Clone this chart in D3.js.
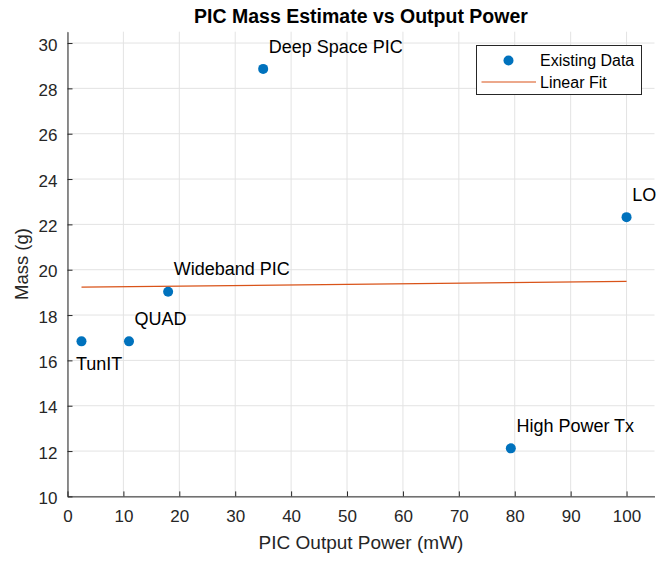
<!DOCTYPE html>
<html>
<meta charset="utf-8">
<head>
  <script src="https://d3js.org/d3.v7.min.js"></script>
  <style>
    body { margin: 0; background: #fff; }
    text { font-family: "Liberation Sans", Arial, Helvetica, sans-serif; fill: #262626; }
    .grid line { stroke: #e3e3e3; stroke-width: 1; }
    .axis path, .axis line { stroke: #262626; }
    .axis text { font-size: 17px; fill: #262626; }
  </style>
</head>
<body>
<div id="chart"></div>
<script>
  // data
  var names = ["TunIT", "QUAD", "Wideband PIC", "Deep Space PIC", "High Power Tx", "LO"];
  var power = [2.5, 11, 18, 35, 79.3, 100];
  var mass = [16.84, 16.84, 19.03, 28.86, 12.12, 22.32];
  // linear fit end points
  var fitPower = [2.5, 100];
  var fitMass = [19.23, 19.49];
  var xTicks = [0, 10, 20, 30, 40, 50, 60, 70, 80, 90, 100];
  var yTicks = [10, 12, 14, 16, 18, 20, 22, 24, 26, 28, 30];

  var width = 660, height = 561;
  var margin = {left: 67.5, right: 5.5, top: 31.7, bottom: 64.6};

  var svg = d3.select("#chart").append("svg")
      .attr("width", width)
      .attr("height", height);

  var x = d3.scaleLinear().domain([0, 105]).range([margin.left, width - margin.right]);
  var y = d3.scaleLinear().domain([10, 30.5]).range([height - margin.bottom, margin.top]);

  // grid
  svg.append("g").attr("class", "grid")
    .selectAll("line.v").data(xTicks).enter().append("line")
      .attr("x1", function(d) { return x(d); })
      .attr("x2", function(d) { return x(d); })
      .attr("y1", y.range()[0])
      .attr("y2", y.range()[1]);
  svg.append("g").attr("class", "grid")
    .selectAll("line.h").data(yTicks).enter().append("line")
      .attr("x1", x.range()[0])
      .attr("x2", x.range()[1])
      .attr("y1", function(d) { return y(d); })
      .attr("y2", function(d) { return y(d); });

  // axes, ticks point inward like matlab
  var xAxis = svg.append("g").attr("class", "axis")
      .attr("transform", "translate(0," + y.range()[0] + ")")
      .call(d3.axisBottom(x).tickValues(xTicks).tickSizeInner(-5).tickSizeOuter(0).tickPadding(14));
  var yAxis = svg.append("g").attr("class", "axis")
      .attr("transform", "translate(" + x.range()[0] + ",0)")
      .call(d3.axisLeft(y).tickValues(yTicks).tickSizeInner(-5).tickSizeOuter(0).tickPadding(10));
  xAxis.selectAll("text").attr("font-family", null);
  yAxis.selectAll("text").attr("font-family", null);
  svg.selectAll(".axis text").attr("font-size", null);
  yAxis.selectAll(".tick text").attr("dy", "0.42em");

  // fit line
  var line = d3.line()
      .x(function(d) { return x(d[0]); })
      .y(function(d) { return y(d[1]); });
  svg.append("path")
      .datum(d3.zip(fitPower, fitMass))
      .attr("d", line)
      .attr("fill", "none")
      .attr("stroke", "#D95319")
      .attr("stroke-width", 1.2);

  // points
  var pts = d3.range(names.length).map(function(i) {
    return {name: names[i], x: power[i], y: mass[i]};
  });
  svg.append("g").selectAll("circle").data(pts).enter().append("circle")
      .attr("cx", function(d) { return x(d.x); })
      .attr("cy", function(d) { return y(d.y); })
      .attr("r", 5)
      .attr("fill", "#0072BD");

  // labels, offset by one unit in data coords (TunIT goes below/left)
  svg.append("g").selectAll("text").data(pts).enter().append("text")
      .attr("x", function(d) { return x(d.x + (d.name === "TunIT" ? -1 : 1)); })
      .attr("y", function(d) { return y(d.y + (d.name === "TunIT" ? -1 : 1)); })
      .attr("dy", "0.35em")
      .attr("font-size", "18px")
      .style("fill", "#000")
      .text(function(d) { return d.name; });

  // title and axis labels
  svg.append("text")
      .attr("x", (x.range()[0] + x.range()[1]) / 2)
      .attr("y", 22.5)
      .attr("text-anchor", "middle")
      .attr("font-size", "19.5px")
      .attr("font-weight", "bold")
      .style("fill", "#000")
      .text("PIC Mass Estimate vs Output Power");

  svg.append("text")
      .attr("x", (x.range()[0] + x.range()[1]) / 2)
      .attr("y", 549)
      .attr("text-anchor", "middle")
      .attr("font-size", "19px")
      .text("PIC Output Power (mW)");

  svg.append("text")
      .attr("transform", "translate(28," + ((y.range()[0] + y.range()[1]) / 2) + ") rotate(-90)")
      .attr("text-anchor", "middle")
      .attr("font-size", "18.5px")
      .text("Mass (g)");

  // legend
  var lg = svg.append("g").attr("transform", "translate(476.5,45.5)");
  lg.append("rect")
      .attr("width", 165).attr("height", 49)
      .attr("fill", "#fff")
      .attr("stroke", "#262626")
      .attr("stroke-width", 1);
  lg.append("circle").attr("cx", 32).attr("cy", 15).attr("r", 5).attr("fill", "#0072BD");
  lg.append("line").attr("x1", 5).attr("x2", 59.5).attr("y1", 36.5).attr("y2", 36.5)
      .attr("stroke", "#D95319").attr("stroke-width", 1.2);
  lg.append("text").attr("x", 63.5).attr("y", 15).attr("dy", "0.35em")
      .attr("font-size", "16px").style("fill", "#000").text("Existing Data");
  lg.append("text").attr("x", 63.5).attr("y", 36.5).attr("dy", "0.35em")
      .attr("font-size", "16px").style("fill", "#000").text("Linear Fit");
</script>
</body>
</html>
